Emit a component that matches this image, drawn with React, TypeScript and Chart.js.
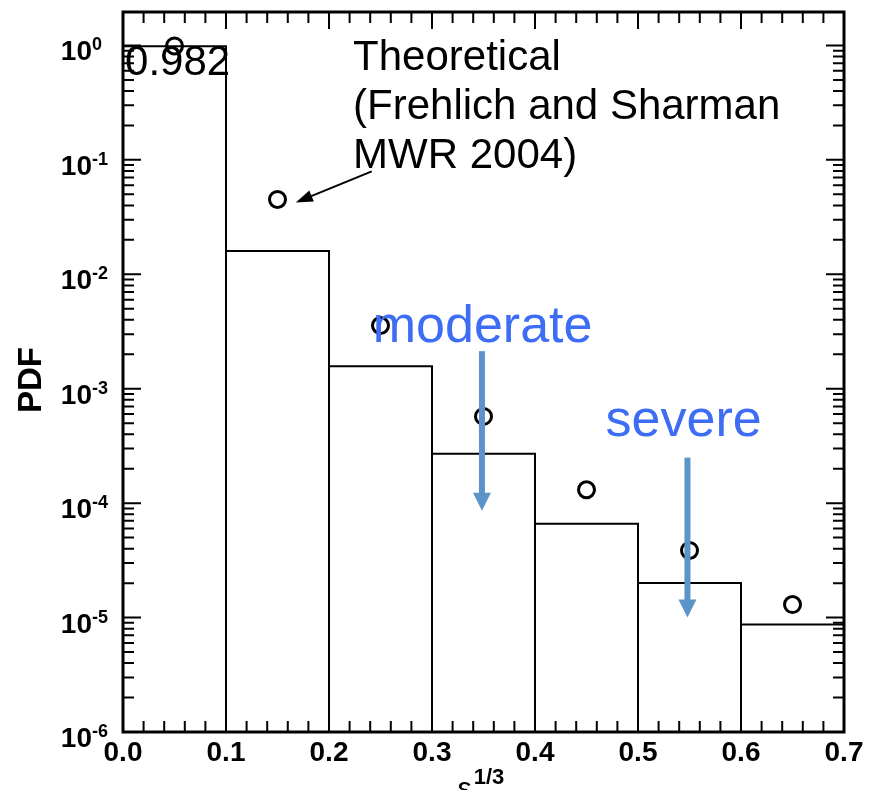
import React, { useEffect, useRef } from "react";
import { Chart, registerables } from "chart.js";

Chart.register(...registerables);

// ---- data ----
const binEdges = [0, 0.1, 0.2, 0.3, 0.4, 0.5, 0.6, 0.7];
const binPdf = [0.982, 0.016, 0.00157, 0.00027, 0.000066, 0.0000201, 0.0000087];
const theoryX = [0.05, 0.15, 0.25, 0.35, 0.45, 0.55, 0.65];
const theoryPdf = [0.99, 0.0451, 0.00357, 0.000573, 0.000131, 0.0000386, 0.000013];
const xTickValues = [0, 0.1, 0.2, 0.3, 0.4, 0.5, 0.6, 0.7];
const xTickLabels = ["0.0", "0.1", "0.2", "0.3", "0.4", "0.5", "0.6", "0.7"];
const yDecadeExponents = [0, -1, -2, -3, -4, -5, -6];
const yMin = 1e-6;
const yMax = 1.96;
const xMin = 0;
const xMax = 0.7;

const theoryLines = ["Theoretical", "(Frehlich and Sharman", "MWR 2004)"];
const binLabel = "0.982";
const moderateLabel = "moderate";
const severeLabel = "severe";
const yTitle = "PDF";

// histogram outline built from the bins
const histPoints: { x: number; y: number }[] = [];
histPoints.push({ x: binEdges[0], y: yMin });
binPdf.forEach((v, i) => {
  histPoints.push({ x: binEdges[i], y: v });
  histPoints.push({ x: binEdges[i + 1], y: v });
  histPoints.push({ x: binEdges[i + 1], y: yMin });
});
const theoryPoints = theoryX.map((x, i) => ({ x, y: theoryPdf[i] }));

const FONT = "'Liberation Sans', Arial, Helvetica, sans-serif";

function arrowHead(ctx: CanvasRenderingContext2D, x0: number, y0: number, x1: number, y1: number, len: number, half: number) {
  const ang = Math.atan2(y1 - y0, x1 - x0);
  ctx.beginPath();
  ctx.moveTo(x1, y1);
  ctx.lineTo(x1 - len * Math.cos(ang) + half * Math.sin(ang), y1 - len * Math.sin(ang) - half * Math.cos(ang));
  ctx.lineTo(x1 - len * Math.cos(ang) - half * Math.sin(ang), y1 - len * Math.sin(ang) + half * Math.cos(ang));
  ctx.closePath();
  ctx.fill();
}

const decorPlugin = {
  id: "decor",
  afterDraw(chart: any) {
    const { ctx, chartArea: a, scales } = chart;
    const xs = scales.x;
    const ys = scales.y;
    const px = (v: number) => xs.getPixelForValue(v);
    const py = (v: number) => ys.getPixelForValue(v);
    ctx.save();

    // inward ticks
    ctx.strokeStyle = "#000";
    ctx.lineWidth = 2;
    ctx.beginPath();
    for (let i = 0; i <= 35; i++) {
      const v = i * 0.02;
      const X = px(v);
      const len = i % 5 === 0 ? 17 : 11;
      ctx.moveTo(X, a.bottom);
      ctx.lineTo(X, a.bottom - len);
      ctx.moveTo(X, a.top);
      ctx.lineTo(X, a.top + len);
    }
    for (let e = -6; e <= 0; e++) {
      for (let m = 1; m <= 9; m++) {
        const v = m * Math.pow(10, e);
        if (v > yMax) continue;
        const Y = py(v);
        const len = m === 1 ? 18 : 11;
        ctx.moveTo(a.left, Y);
        ctx.lineTo(a.left + len, Y);
        ctx.moveTo(a.right, Y);
        ctx.lineTo(a.right - len, Y);
      }
    }
    ctx.stroke();

    // frame
    ctx.lineWidth = 3;
    ctx.strokeRect(a.left, a.top, a.right - a.left, a.bottom - a.top);

    // x tick labels
    ctx.fillStyle = "#000";
    ctx.font = `bold 28px ${FONT}`;
    ctx.textAlign = "center";
    ctx.textBaseline = "alphabetic";
    xTickValues.forEach((v, i) => {
      ctx.fillText(xTickLabels[i], px(v), a.bottom + 29);
    });

    // y tick labels 10^n
    yDecadeExponents.forEach((e) => {
      const Y = py(Math.pow(10, e));
      ctx.font = `bold 28px ${FONT}`;
      ctx.textAlign = "right";
      ctx.fillText("10", a.left - 31, Y + 15);
      ctx.font = `bold 18px ${FONT}`;
      ctx.textAlign = "left";
      ctx.fillText(String(e), a.left - 31, Y + 5);
    });

    // y title
    ctx.save();
    ctx.translate(a.left - 91, (a.top + a.bottom) / 2 + 8);
    ctx.rotate(-Math.PI / 2);
    ctx.font = `bold 33px ${FONT}`;
    ctx.textAlign = "center";
    ctx.textBaseline = "middle";
    ctx.fillText(yTitle, 0, 0);
    ctx.restore();

    // x title epsilon^{1/3}
    ctx.textAlign = "left";
    ctx.textBaseline = "alphabetic";
    ctx.font = `32px ${FONT}`;
    ctx.fillText("\u03b5", px(0.3245), a.bottom + 67);
    ctx.font = `bold 22px ${FONT}`;
    ctx.fillText("1/3", px(0.3405), a.bottom + 52);

    // "0.982"
    ctx.font = `42px ${FONT}`;
    ctx.fillText(binLabel, px(0.002), py(0.548));

    // theoretical annotation
    ctx.font = `42px ${FONT}`;
    const lineYs = [0.605, 0.226, 0.0845];
    theoryLines.forEach((t, i) => ctx.fillText(t, px(0.2234), py(lineYs[i])));

    // black arrow
    const bx0 = px(0.2415), by0 = py(0.0794);
    const bx1 = px(0.1678), by1 = py(0.0425);
    ctx.strokeStyle = "#000";
    ctx.lineWidth = 2;
    ctx.beginPath();
    ctx.moveTo(bx0, by0);
    const ang = Math.atan2(by1 - by0, bx1 - bx0);
    ctx.lineTo(bx1 - 12 * Math.cos(ang), by1 - 12 * Math.sin(ang));
    ctx.stroke();
    ctx.fillStyle = "#000";
    arrowHead(ctx, bx0, by0, bx1, by1, 17, 6);

    // blue labels
    ctx.fillStyle = "#3d6cf5";
    ctx.font = `52px ${FONT}`;
    ctx.fillText(moderateLabel, px(0.2425), py(0.00255));
    ctx.fillText(severeLabel, px(0.4685), py(0.00039));

    // blue arrows
    const blue = "#5b94c9";
    const drawDown = (xv: number, y0v: number, y1v: number) => {
      const X = px(xv), Y0 = py(y0v), Y1 = py(y1v);
      ctx.fillStyle = blue;
      ctx.fillRect(X - 3, Y0, 6, Y1 - Y0 - 16);
      arrowHead(ctx, X, Y0, X, Y1, 18, 9);
    };
    drawDown(0.3485, 0.00213, 0.000086);
    drawDown(0.548, 0.00025, 0.00001);

    ctx.restore();
  },
};

export default function App() {
  const ref = useRef<HTMLCanvasElement | null>(null);
  useEffect(() => {
    if (!ref.current) return;
    const chart = new Chart(ref.current, {
      type: "scatter",
      data: {
        datasets: [
          {
            label: "histogram",
            data: histPoints,
            showLine: true,
            borderColor: "#000",
            borderWidth: 2,
            pointRadius: 0,
            tension: 0,
            fill: false,
          },
          {
            label: "theoretical",
            data: theoryPoints,
            showLine: false,
            pointStyle: "circle",
            pointRadius: 8,
            pointBorderWidth: 3,
            pointBorderColor: "#000",
            pointBackgroundColor: "rgba(0,0,0,0)",
            clip: false,
          } as any,
        ],
      },
      options: {
        animation: false,
        responsive: false,
        layout: { autoPadding: false, padding: { left: 115, right: 22, top: 4, bottom: 66 } },
        scales: {
          x: { type: "linear", min: xMin, max: xMax, display: false },
          y: { type: "logarithmic", min: yMin, max: yMax, display: false },
        },
        plugins: { legend: { display: false }, tooltip: { enabled: false } },
      },
      plugins: [decorPlugin],
    });
    return () => chart.destroy();
  }, []);
  return (
    <div style={{ width: 858, height: 790, marginBottom: -8 }}>
      <canvas ref={ref} width={858} height={790} style={{ display: "block" }} />
    </div>
  );
}
